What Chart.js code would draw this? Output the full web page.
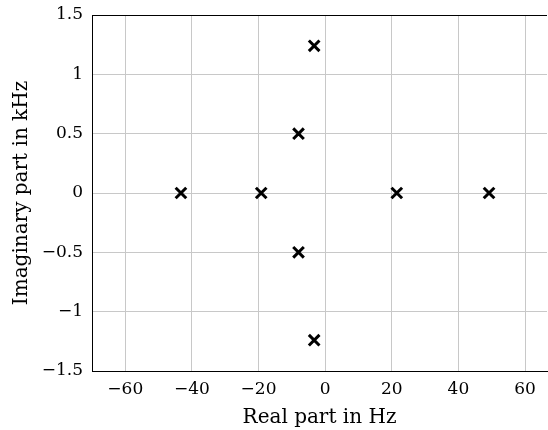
<!DOCTYPE html>
<html>
<head>
<meta charset="utf-8">
<script src="https://cdn.jsdelivr.net/npm/chart.js@4"></script>
<style>
  html, body { margin: 0; padding: 0; background: #fff; }
  #wrap { width: 548px; height: 430px; }
</style>
</head>
<body>
<div id="wrap"><canvas id="poles"></canvas></div>
<script>
// pole locations
const realHz = [-43.3, -19.2, 21.5, 49.2, -8.0, -8.0, -3.3, -3.3];
const imagKHz = [0, 0, 0, 0, 0.5, -0.5, 1.24, -1.24];

const xTicks = [-60, -40, -20, 0, 20, 40, 60];
const yTicks = [-1.5, -1, -0.5, 0, 0.5, 1, 1.5];

const serif = 'DejaVu Serif';

// LaTeX style minus sign
const fmt = v => (v < 0 ? '\u2212' + Math.abs(v) : String(v));

// top frame line (pgfplots box)
const topFrame = {
  id: 'topFrame',
  afterDraw(chart) {
    const { ctx, chartArea } = chart;
    ctx.save();
    ctx.strokeStyle = '#000';
    ctx.lineWidth = 1;
    ctx.beginPath();
    ctx.moveTo(chartArea.left, chartArea.top + 0.5);
    ctx.lineTo(chartArea.right, chartArea.top + 0.5);
    ctx.stroke();
    ctx.restore();
  }
};

const points = realHz.map((x, i) => ({ x: x, y: imagKHz[i] }));

new Chart(document.getElementById('poles'), {
  type: 'scatter',
  data: {
    datasets: [{
      label: 'poles',
      data: points,
      pointStyle: 'crossRot',
      pointRadius: 7.5,
      pointHoverRadius: 7.5,
      borderColor: '#000',
      backgroundColor: '#000',
      pointBorderWidth: 3
    }]
  },
  options: {
    responsive: true,
    maintainAspectRatio: false,
    animation: false,
    layout: { autoPadding: false, padding: { top: 15, right: 1, left: 0, bottom: 0 } },
    plugins: {
      legend: { display: false },
      tooltip: { enabled: false }
    },
    scales: {
      x: {
        type: 'linear',
        min: -70,
        max: 66.6,
        afterBuildTicks: axis => { axis.ticks = xTicks.map(v => ({ value: v })); },
        afterFit: axis => {
          axis.height = 59;
          axis.paddingLeft = 0;
          axis.paddingRight = 0;
        },
        grid: { color: '#c8c8c8', drawTicks: false },
        border: { color: '#000', width: 1 },
        ticks: {
          color: '#000',
          padding: 8,
          font: { family: serif, size: 17 },
          callback: v => fmt(v)
        },
        title: {
          display: true,
          text: 'Real part in Hz',
          color: '#000',
          padding: { top: 6, bottom: 0 },
          font: { family: serif, size: 20 }
        }
      },
      y: {
        type: 'linear',
        min: -1.5,
        max: 1.5,
        afterBuildTicks: axis => { axis.ticks = yTicks.map(v => ({ value: v })); },
        afterFit: axis => {
          axis.width = 92;
          axis.paddingTop = 0;
          axis.paddingBottom = 0;
        },
        grid: { color: '#c8c8c8', drawTicks: false },
        border: { color: '#000', width: 1 },
        ticks: {
          color: '#000',
          padding: 9,
          font: { family: serif, size: 17 },
          callback: v => fmt(v)
        },
        title: {
          display: true,
          text: 'Imaginary part in kHz',
          color: '#000',
          padding: { top: 10, bottom: 0 },
          font: { family: serif, size: 20 }
        }
      }
    }
  },
  plugins: [topFrame]
});
</script>
</body>
</html>
